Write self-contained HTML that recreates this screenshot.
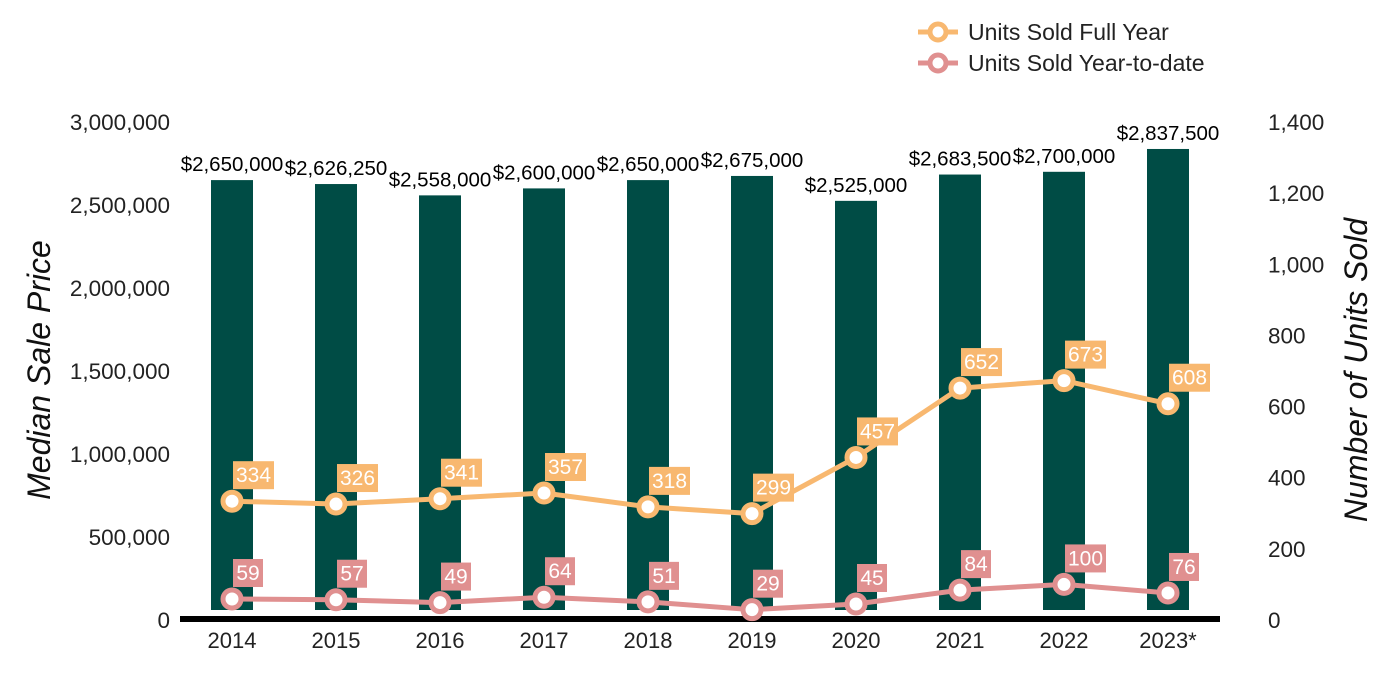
<!DOCTYPE html>
<html><head><meta charset="utf-8"><style>
body{margin:0;background:#fff;}
svg{display:block;font-family:"Liberation Sans",Arial,sans-serif;}
</style></head><body>
<svg id="c" width="1400" height="700">
<g id="g"></g>
</svg>
<script>
const years=["2014","2015","2016","2017","2018","2019","2020","2021","2022","2023*"];
const prices=[2650000,2626250,2558000,2600000,2650000,2675000,2525000,2683500,2700000,2837500];
const priceLabels=["$2,650,000","$2,626,250","$2,558,000","$2,600,000","$2,650,000","$2,675,000","$2,525,000","$2,683,500","$2,700,000","$2,837,500"];
const fullYear=[334,326,341,357,318,299,457,652,673,608];
const ytd=[59,57,49,64,51,29,45,84,100,76];
const leftTicks=[0,500000,1000000,1500000,2000000,2500000,3000000];
const leftTickLabels=["0","500,000","1,000,000","1,500,000","2,000,000","2,500,000","3,000,000"];
const rightTicks=[0,200,400,600,800,1000,1200,1400];
const rightTickLabels=["0","200","400","600","800","1,000","1,200","1,400"];
const NS="http://www.w3.org/2000/svg";
const g=document.getElementById('g');
const y0=620,yTop=122;
const yL=v=>y0-v/3000000*(y0-yTop);
const yR=v=>y0-v/1400*(y0-yTop);
const xC=i=>232+i*104;
function el(t,a,txt){const e=document.createElementNS(NS,t);for(const k in a)e.setAttribute(k,a[k]);if(txt!==undefined)e.textContent=txt;g.appendChild(e);return e;}
leftTicks.forEach((v,i)=>{const e=el('text',{x:170,y:yL(v)+8,'text-anchor':'end','font-size':22.5,fill:'#222'},leftTickLabels[i]);

});
rightTicks.forEach((v,i)=>{const e=el('text',{x:1268,y:yR(v)+8,'font-size':22.5,fill:'#222'},rightTickLabels[i]);

});
let e=el('text',{x:0,y:0,transform:'translate(50,370) rotate(-90)','text-anchor':'middle','font-size':32,'font-style':'italic',fill:'#111'},'Median Sale Price');


e=el('text',{x:0,y:0,transform:'translate(1367,370) rotate(-90)','text-anchor':'middle','font-size':32,'font-style':'italic',fill:'#111'},'Number of Units Sold');


prices.forEach((v,i)=>{const b=el('rect',{x:xC(i)-21,y:yL(v),width:42,height:610-yL(v),fill:'#004C45'});


const t=el('text',{x:xC(i),y:yL(v)-9,'text-anchor':'middle','font-size':20.5,fill:'#000'},priceLabels[i]);


const xl=el('text',{x:xC(i),y:648,'text-anchor':'middle','font-size':22,fill:'#222'},years[i]);

});
e=el('rect',{x:180,y:616,width:1040,height:6,fill:'#000'});


function series(data,color,name){
const l=el('polyline',{points:data.map((v,i)=>xC(i)+','+yR(v)).join(' '),fill:'none',stroke:color,'stroke-width':5,'stroke-linejoin':'round'});


data.forEach((v,i)=>{const x=xC(i),y=yR(v);
const c=el('circle',{cx:x,cy:y,r:9,fill:'#fff',stroke:color,'stroke-width':5});


const s=String(v);const w=s.length*11+8;
const r=el('rect',{x:x+1,y:y-40,width:w,height:28,fill:color});


const t=el('text',{x:x+1+w/2,y:y-19,'text-anchor':'middle','font-size':21,fill:'#fff'},s);

});}
series(fullYear,'#F8B870','full-year');
series(ytd,'#E09090','ytd');
[['#F8B870','Units Sold Full Year',32],['#E09090','Units Sold Year-to-date',63]].forEach(d=>{
const l=el('line',{x1:918,x2:958,y1:d[2],y2:d[2],stroke:d[0],'stroke-width':5});


const c=el('circle',{cx:938,cy:d[2],r:8,fill:'#fff',stroke:d[0],'stroke-width':5});


const t=el('text',{x:968,y:d[2]+8,'font-size':23,fill:'#222'},d[1]);

});
</script>
</body></html>
